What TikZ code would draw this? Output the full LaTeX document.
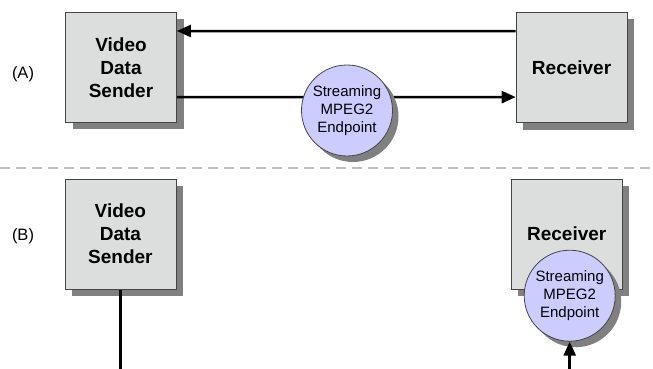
\documentclass[tikz,border=0pt]{standalone}
\usepackage{fontspec}
\setmainfont{Liberation Sans}
\usepackage{xcolor}
\usepackage{tikz}
\usetikzlibrary{positioning,arrows.meta,shadows}

\definecolor{boxgray}{HTML}{DCDDDD}
\definecolor{edgegray}{HTML}{454545}
\definecolor{shadowgray}{HTML}{808080}
\definecolor{lavender}{HTML}{CCCCFF}
\definecolor{dashgray}{HTML}{BDBDBD}

\begin{document}
\begin{tikzpicture}[
    x=1pt, y=-1pt,
    unit/.style={rectangle, draw=edgegray, fill=boxgray, line width=0.8pt, minimum width=111pt, minimum height=110pt, align=center, font=\fontsize{19}{23}\selectfont\bfseries, drop shadow={shadow xshift=7pt, shadow yshift=-7pt, fill=shadowgray, opacity=1}},
    endpoint/.style={circle, draw=edgegray, fill=lavender, line width=0.8pt, minimum size=91pt, inner sep=0pt, align=center, font=\fontsize{15}{18}\selectfont, drop shadow={shadow xshift=6pt, shadow yshift=-6pt, fill=shadowgray, opacity=1}},
    tag/.style={font=\fontsize{16.5}{20}\selectfont},
    arrow/.style={-{Triangle[length=14pt,width=12pt]}, line width=2.5pt},
    wire/.style={line width=2.5pt}
]
\useasboundingbox (0,0) rectangle (653,369);

% (A)
\node[tag] (labA) at (23,74) {(A)};
\node[unit] (sendA) at (121,67.4) {Video\\Data\\Sender};
\node[unit] (recvA) at (571.6,67.5) {Receiver};
\draw[arrow] ([yshift=36.4pt]recvA.west) -- ([yshift=36.4pt]sendA.east);
\draw[arrow] ([yshift=-29.6pt]sendA.east) -- ([yshift=-29.6pt]recvA.west);
\node[endpoint] (mpegA) at (347,110.5) {Streaming\\MPEG2\\Endpoint};

\draw[dashgray, line width=1.3pt, dash pattern=on 10pt off 6pt] (0,168) -- (653,168);

% (B)
\node[tag] (labB) at (23,236) {(B)};
\node[unit] (sendB) at (120.4,234.2) {Video\\Data\\Sender};
\node[unit] (recvB) at (566.7,234.2) {Receiver};
\node[endpoint] (mpegB) at (569.7,295.7) {Streaming\\MPEG2\\Endpoint};
\coordinate (outB) at (sendB.south |- 0,369);
\coordinate (inB) at (mpegB.south |- 0,369);
\draw[wire] (sendB.south) -- (outB);
\draw[arrow] (inB) -- (mpegB.south);
\end{tikzpicture}
\end{document}
